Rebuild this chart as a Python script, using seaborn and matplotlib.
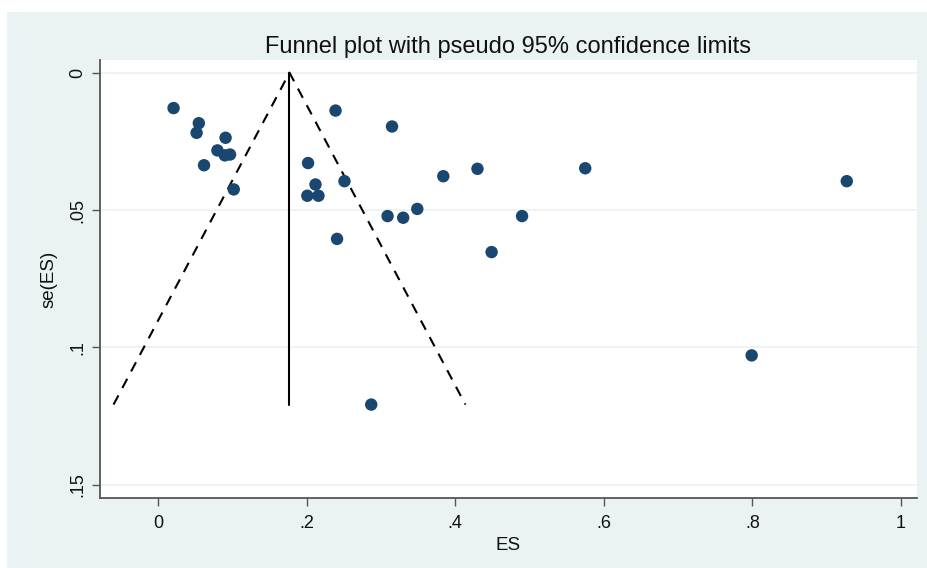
import numpy as np
import pandas as pd
import matplotlib
matplotlib.use("Agg")
import matplotlib.pyplot as plt
import seaborn as sns

# Study estimates
es = [0.021, 0.055, 0.052, 0.091, 0.080, 0.090, 0.097, 0.062, 0.102,
      0.239, 0.315, 0.202, 0.212, 0.251, 0.201, 0.216, 0.384, 0.430,
      0.309, 0.330, 0.349, 0.241, 0.449, 0.490, 0.287, 0.575, 0.927, 0.799]
se = [0.0129, 0.0184, 0.0219, 0.0237, 0.0283, 0.0301, 0.0298, 0.0337, 0.0425,
      0.0138, 0.0196, 0.0329, 0.0407, 0.0395, 0.0448, 0.0448, 0.0377, 0.0350,
      0.0522, 0.0528, 0.0496, 0.0605, 0.0653, 0.0522, 0.1208, 0.0348, 0.0395, 0.1029]

pooled = 0.177
x_ticks = [0, 0.2, 0.4, 0.6, 0.8, 1.0]
x_ticklabels = ["0", ".2", ".4", ".6", ".8", "1"]
y_ticks = [0, 0.05, 0.10, 0.15]
y_ticklabels = ["0", ".05", ".1", ".15"]

df = pd.DataFrame({"ES": es, "se": se})
se_max = max(se)
funnel = pd.DataFrame({
    "ES": [pooled - 1.96 * se_max, pooled, pooled + 1.96 * se_max],
    "se": [se_max, 0.0, se_max],
})
center = pd.DataFrame({"ES": [pooled, pooled], "se": [0.0, se_max]})

sns.set_style("white")
plt.rcParams["font.family"] = ["Liberation Sans", "DejaVu Sans"]

BG = "#eaf2f3"
fig = plt.figure(figsize=(9.28, 5.68), dpi=100, facecolor="white")
# outer Stata-like background panel
fig.patches.append(plt.Rectangle((7 / 928, 0), 1 - 7 / 928, 1 - 12 / 568,
                                 transform=fig.transFigure, facecolor=BG,
                                 edgecolor="none", zorder=-10))
ax = fig.add_axes([100 / 928, 1 - 498 / 568, 817 / 928, 438 / 568])
ax.set_facecolor("white")

for yt in y_ticks:
    ax.axhline(yt, color="#eaf2f3", lw=1.2, zorder=0)

sns.lineplot(data=center, x="ES", y="se", sort=False, color="black",
             lw=1.5, ax=ax, estimator=None)
sns.lineplot(data=funnel, x="ES", y="se", sort=False, color="black",
             lw=1.5, ax=ax, estimator=None, linestyle=(0, (5, 4)))
sns.scatterplot(data=df, x="ES", y="se", color="#1a476f", s=80,
                edgecolor="none", ax=ax, zorder=3)

ax.set_xlim(-0.078, 1.0215)
ax.set_ylim(0.1548, -0.0046)
ax.set_xticks(x_ticks)
ax.set_xticklabels(x_ticklabels)
ax.set_yticks(y_ticks)
ax.set_yticklabels(y_ticklabels, rotation=90, va="center")
ax.tick_params(axis="both", direction="out", length=6, width=1,
               color="#555555", labelsize=13, labelcolor="#111111", pad=4)
ax.tick_params(axis="x", bottom=True, pad=6)
ax.tick_params(axis="y", left=True)

for side in ["top", "right"]:
    ax.spines[side].set_visible(False)
for side in ["left", "bottom"]:
    ax.spines[side].set_color("#555555")
    ax.spines[side].set_linewidth(1.3)

ax.set_xlabel("ES", fontsize=13.5, color="#111111", labelpad=4)
ax.set_ylabel("se(ES)", fontsize=13.5, color="#111111", labelpad=8)
ax.set_title("Funnel plot with pseudo 95% confidence limits",
             fontsize=17, color="#111111", pad=5)

fig.savefig("out.png", dpi=100, facecolor=fig.get_facecolor())
